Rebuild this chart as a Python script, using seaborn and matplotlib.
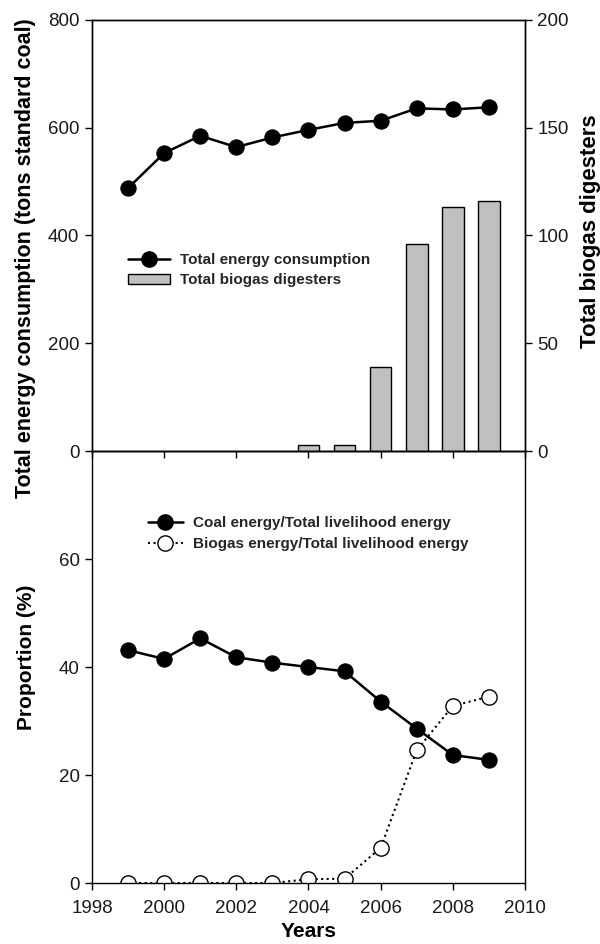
import matplotlib
matplotlib.use("Agg")
import matplotlib.pyplot as plt
import seaborn as sns
import pandas as pd
from matplotlib.lines import Line2D
from matplotlib.patches import Patch

years = [1999, 2000, 2001, 2002, 2003, 2004, 2005, 2006, 2007, 2008, 2009]
total_energy = [488, 553, 585, 564, 582, 596, 609, 613, 636, 634, 638]
digester_years = [2004, 2005, 2006, 2007, 2008, 2009]
digesters = [3, 3, 39, 96, 113, 116]
coal_prop = [43.1, 41.5, 45.3, 41.8, 40.8, 40.0, 39.2, 33.6, 28.6, 23.7, 22.8]
biogas_prop = [0, 0, 0, 0, 0, 0.7, 0.8, 6.5, 24.6, 32.8, 34.5]

sns.set_theme(style="ticks")
plt.rcParams['font.family'] = ['Liberation Sans', 'DejaVu Sans']

df_top = pd.DataFrame({"year": years, "energy": total_energy})
df_bar = pd.DataFrame({"year": digester_years, "dig": digesters})
df_bot = pd.DataFrame({"year": years, "coal": coal_prop, "biogas": biogas_prop})

fig = plt.figure(figsize=(6, 9.44), dpi=100)
L, R = 92/600, 525/600
ax1 = fig.add_axes([L, 1-451/944, R-L, 431/944])
ax3 = fig.add_axes([L, 1-883/944, R-L, 432/944])
ax2 = ax1.twinx()

tick_fs = 13.5
txt_col = "#1a1a1a"

# Top panel
sns.barplot(data=df_bar, x="year", y="dig", ax=ax2, native_scale=True, width=0.6,
            color="#c0c0c0", edgecolor="black", linewidth=1, saturation=1)
sns.lineplot(data=df_top, x="year", y="energy", ax=ax1, color="black", lw=1.8,
             marker="o", markersize=11, markerfacecolor="black", markeredgecolor="black")
ax1.set_zorder(ax2.get_zorder() + 1)
ax1.patch.set_visible(False)

ax1.set_xlim(1998, 2010)
ax2.set_xlim(1998, 2010)
ax1.set_ylim(0, 800)
ax2.set_ylim(0, 200)
ax1.set_yticks([0, 200, 400, 600, 800])
ax2.set_yticks([0, 50, 100, 150, 200])
ax1.set_xticks(range(1998, 2011, 2))
ax1.set_xticklabels([])
ax1.set_xlabel("")
ax2.set_xlabel("")
ax1.set_ylabel("Total energy consumption (tons standard coal)", fontsize=15.5,
               fontweight="bold", color="black")
ax2.set_ylabel("Total biogas digesters", fontsize=16, fontweight="bold", color="black")
ax1.yaxis.set_label_coords(-0.13, 0.447)
ax2.yaxis.set_label_coords(1.127, 0.51)
for a in (ax1, ax2):
    a.tick_params(labelsize=tick_fs, length=5, width=1, color="black", labelcolor=txt_col,
                  pad=4)
    for s in a.spines.values():
        s.set_visible(True)
        s.set_linewidth(1)
        s.set_color("black")

h1 = Line2D([], [], color="black", lw=1.8, marker="o", markersize=11)
h2 = Patch(facecolor="#c0c0c0", edgecolor="black")
ax1.legend([h1, h2], ["Total energy consumption", "Total biogas digesters"],
           loc="upper left", bbox_to_anchor=(0.07, 0.473), frameon=False,
           prop={"weight": "bold", "size": 11}, handlelength=2.75, labelspacing=0.4,
           handletextpad=0.65, borderaxespad=0)

# Bottom panel
sns.lineplot(data=df_bot, x="year", y="coal", ax=ax3, color="black", lw=1.8,
             marker="o", markersize=11, markerfacecolor="black", markeredgecolor="black")
sns.lineplot(data=df_bot, x="year", y="biogas", ax=ax3, color="black", lw=1.5, linestyle=":",
             marker="o", markersize=11, markerfacecolor="white", markeredgecolor="black",
             markeredgewidth=1)
ax3.set_xlim(1998, 2010)
ax3.set_ylim(0, 80)
ax3.set_yticks([0, 20, 40, 60])
ax3.set_xticks(range(1998, 2011, 2))
ax3.set_xlabel("Years", fontsize=15, fontweight="bold", color="black", labelpad=4)
ax3.set_ylabel("Proportion (%)", fontsize=15, fontweight="bold", color="black")
ax3.yaxis.set_label_coords(-0.13, 0.523)
ax3.tick_params(labelsize=tick_fs, length=5, width=1, color="black", labelcolor=txt_col, pad=4)
ax3.tick_params(axis="x", pad=7)
for s in ax3.spines.values():
    s.set_visible(True)
    s.set_linewidth(1)
    s.set_color("black")

h3 = Line2D([], [], color="black", lw=1.8, marker="o", markersize=11)
h4 = Line2D([], [], color="black", lw=1.5, linestyle=":", marker="o", markersize=11,
            markerfacecolor="white", markeredgecolor="black")
ax3.legend([h3, h4], ["Coal energy/Total livelihood energy", "Biogas energy/Total livelihood energy"],
           loc="upper left", bbox_to_anchor=(0.115, 0.863), frameon=False,
           prop={"weight": "bold", "size": 11}, handlelength=2.3, labelspacing=0.45,
           handletextpad=0.65, borderaxespad=0)

fig.savefig("out.png", dpi=100)
